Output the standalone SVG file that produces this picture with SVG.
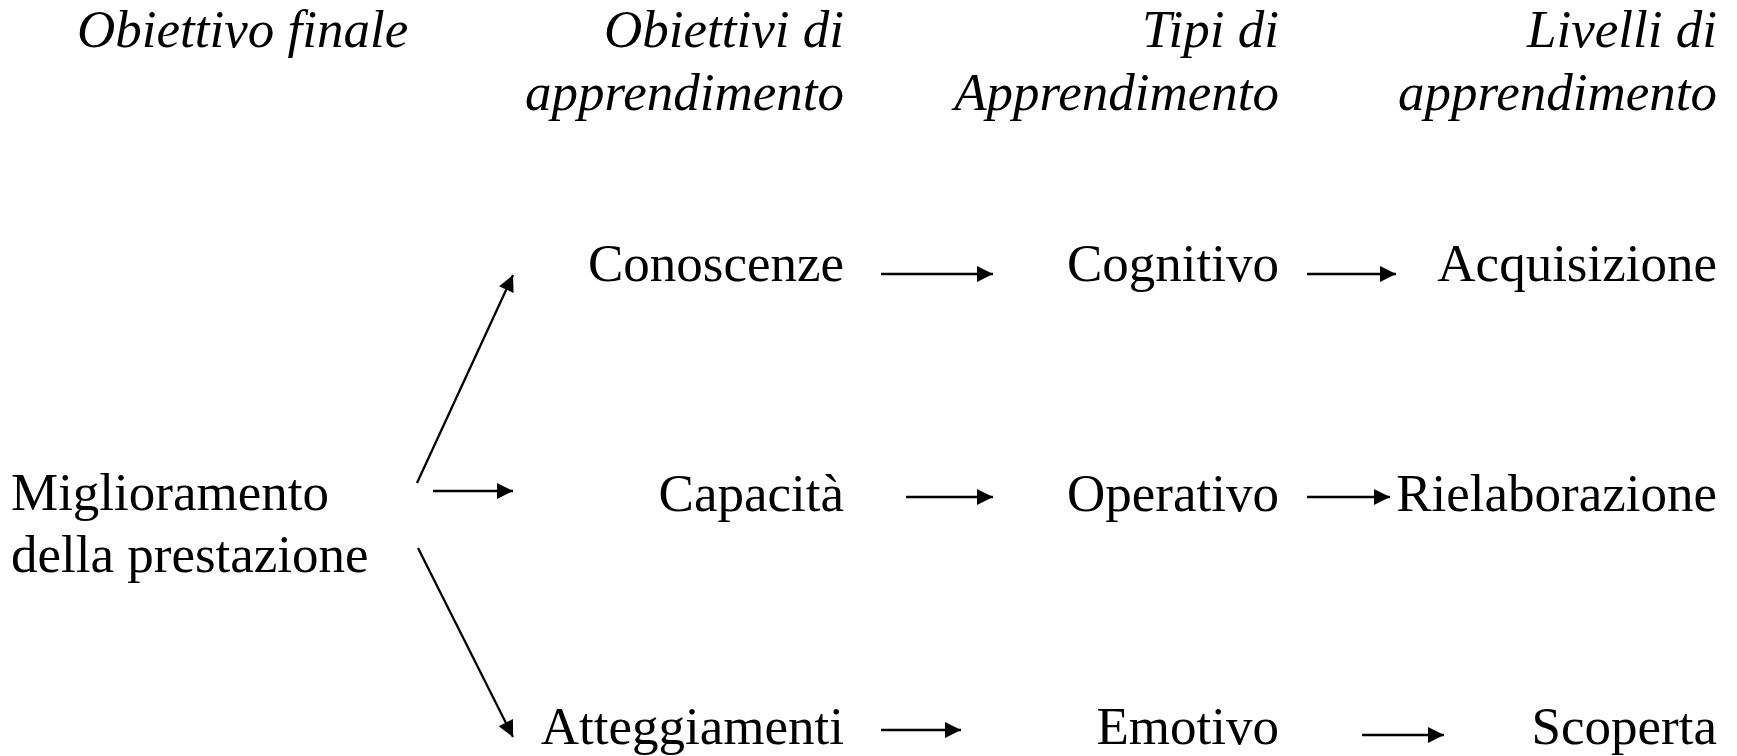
<svg xmlns="http://www.w3.org/2000/svg" width="1737" height="756" viewBox="0 0 1737 756">
<style>
text{font-family:"Liberation Serif","Times New Roman",serif;font-size:53px;fill:#000}
.h{font-style:italic}
.r{text-anchor:end}
.c line{stroke:#000;stroke-width:2.3;marker-end:url(#ah)}
</style>
<defs>
<marker id="ah" markerUnits="userSpaceOnUse" markerWidth="17" markerHeight="17" refX="16" refY="8" orient="auto" overflow="visible">
<path d="M0,0 L16,8 L0,16 z" fill="#000"/>
</marker>
</defs>
<rect width="1737" height="756" fill="#fff"/>
<g id="headers">
<text class="h" x="77" y="47">Obiettivo finale</text>
<text class="h r" x="844" y="47">Obiettivi di</text>
<text class="h r" x="844" y="110">apprendimento</text>
<text class="h r" x="1279" y="47">Tipi di</text>
<text class="h r" x="1279" y="110">Apprendimento</text>
<text class="h r" x="1717" y="47">Livelli di</text>
<text class="h r" x="1717" y="110">apprendimento</text>
</g>
<g id="n-miglioramento"><text x="11" y="510">Miglioramento</text><text x="11" y="572">della prestazione</text></g>
<g id="n-conoscenze"><text class="r" x="844" y="281">Conoscenze</text></g>
<g id="n-capacita"><text class="r" x="844" y="511">Capacità</text></g>
<g id="n-atteggiamenti"><text class="r" x="844" y="744">Atteggiamenti</text></g>
<g id="n-cognitivo"><text class="r" x="1279" y="281">Cognitivo</text></g>
<g id="n-operativo"><text class="r" x="1279" y="511">Operativo</text></g>
<g id="n-emotivo"><text class="r" x="1279" y="744">Emotivo</text></g>
<g id="n-acquisizione"><text class="r" x="1717" y="281">Acquisizione</text></g>
<g id="n-rielaborazione"><text class="r" x="1717" y="511">Rielaborazione</text></g>
<g id="n-scoperta"><text class="r" x="1717" y="744">Scoperta</text></g>
<g class="c" id="connectors">
<line x1="417" y1="483" x2="513" y2="275"/>
<line x1="433" y1="491" x2="513" y2="491"/>
<line x1="418" y1="548" x2="513" y2="737"/>
<line x1="881" y1="274" x2="993" y2="274"/>
<line x1="1307" y1="274" x2="1396" y2="274"/>
<line x1="906" y1="497" x2="993" y2="497"/>
<line x1="1307" y1="497" x2="1390" y2="497"/>
<line x1="881" y1="730" x2="961" y2="730"/>
<line x1="1362" y1="735" x2="1444" y2="735"/>
</g>
</svg>
